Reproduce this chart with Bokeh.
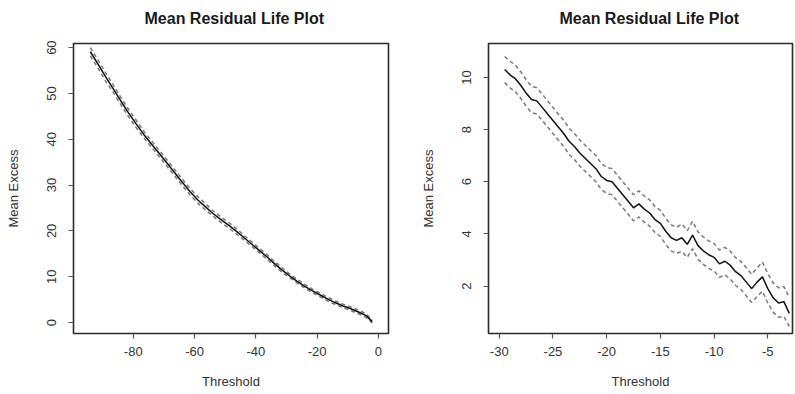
from bokeh.plotting import figure
from bokeh.layouts import row
from bokeh.models import Range1d, FixedTicker, Title
from bokeh.embed import file_html
from bokeh.resources import INLINE

TITLE = "Mean Residual Life Plot"
X_LABEL = "Threshold"
Y_LABEL = "Mean Excess"

# ---- left panel data ----
left_threshold = [-94, -91.5, -89, -86.5, -84, -81.5, -79, -76.5, -74, -71.5, -69, -66.5,
                  -64, -61.5, -59, -56.5, -54, -51.5, -49, -46.5, -44, -41.5, -39, -36.5,
                  -34, -31.5, -29, -26.5, -24, -21.5, -19, -16.5, -14, -11.5, -9, -6.5, -4, -2]
left_mean = [59.1, 56.4, 53.6, 51.0, 48.3, 45.7, 43.3, 41.0, 38.9, 36.9, 34.8, 32.7,
             30.6, 28.6, 26.8, 25.3, 23.8, 22.5, 21.3, 20.0, 18.6, 17.2, 15.8, 14.4,
             12.9, 11.5, 10.2, 9.0, 7.9, 6.9, 6.0, 5.1, 4.3, 3.6, 3.0, 2.3, 1.5, 0.2]
left_upper = [60.0, 57.3, 54.5, 51.8, 49.1, 46.5, 44.1, 41.7, 39.6, 37.6, 35.5, 33.4,
              31.3, 29.3, 27.5, 26.0, 24.4, 23.1, 21.9, 20.6, 19.1, 17.7, 16.3, 14.9,
              13.4, 12.0, 10.6, 9.4, 8.3, 7.3, 6.4, 5.5, 4.7, 4.0, 3.4, 2.7, 1.9, 0.5]
left_lower = [58.2, 55.5, 52.7, 50.2, 47.5, 44.9, 42.5, 40.3, 38.2, 36.2, 34.1, 32.0,
              29.9, 27.9, 26.1, 24.6, 23.2, 21.9, 20.7, 19.4, 18.1, 16.7, 15.3, 13.9,
              12.4, 11.0, 9.8, 8.6, 7.5, 6.5, 5.6, 4.7, 3.9, 3.2, 2.6, 1.9, 1.1, -0.1]
left_xticks = [-80, -60, -40, -20, 0]
left_yticks = [0, 10, 20, 30, 40, 50, 60]

# ---- right panel data ----
right_threshold = [-29.5, -29.0, -28.5, -28.0, -27.5, -27.0, -26.5, -26.0, -25.5, -25.0,
                   -24.5, -24.0, -23.5, -23.0, -22.5, -22.0, -21.5, -21.0, -20.5, -20.0,
                   -19.5, -19.0, -18.5, -18.0, -17.5, -17.0, -16.5, -16.0, -15.5, -15.0,
                   -14.5, -14.0, -13.5, -13.0, -12.5, -12.0, -11.5, -11.0, -10.5, -10.0,
                   -9.5, -9.0, -8.5, -8.0, -7.5, -7.0, -6.5, -6.0, -5.5, -5.0,
                   -4.5, -4.0, -3.5, -3.0]
right_mean = [10.30, 10.10, 9.95, 9.70, 9.40, 9.15, 9.10, 8.85, 8.60, 8.35,
              8.10, 7.85, 7.55, 7.35, 7.10, 6.90, 6.70, 6.50, 6.20, 6.05,
              6.00, 5.75, 5.50, 5.25, 5.00, 5.15, 4.95, 4.80, 4.55, 4.40,
              4.10, 3.85, 3.75, 3.85, 3.60, 3.95, 3.55, 3.35, 3.20, 3.10,
              2.85, 2.95, 2.80, 2.55, 2.40, 2.15, 1.90, 2.15, 2.35, 1.90,
              1.55, 1.35, 1.40, 0.95]
right_upper = [10.80, 10.62, 10.47, 10.22, 9.91, 9.66, 9.60, 9.36, 9.10, 8.85,
               8.60, 8.35, 8.05, 7.85, 7.60, 7.40, 7.20, 7.00, 6.70, 6.55,
               6.50, 6.25, 6.00, 5.75, 5.50, 5.65, 5.45, 5.30, 5.05, 4.90,
               4.60, 4.35, 4.25, 4.38, 4.12, 4.48, 4.08, 3.88, 3.73, 3.63,
               3.38, 3.48, 3.34, 3.09, 2.94, 2.70, 2.45, 2.70, 2.92, 2.47,
               2.12, 1.93, 1.98, 1.55]
right_lower = [9.80, 9.60, 9.45, 9.20, 8.90, 8.65, 8.60, 8.35, 8.10, 7.85,
               7.60, 7.35, 7.05, 6.85, 6.60, 6.40, 6.20, 6.00, 5.70, 5.55,
               5.50, 5.25, 5.00, 4.75, 4.50, 4.65, 4.45, 4.30, 4.05, 3.90,
               3.60, 3.35, 3.25, 3.33, 3.10, 3.43, 3.03, 2.83, 2.68, 2.58,
               2.33, 2.43, 2.27, 2.02, 1.87, 1.62, 1.37, 1.60, 1.80, 1.35,
               1.00, 0.80, 0.84, 0.45]
right_xticks = [-30, -25, -20, -15, -10, -5]
right_yticks = [2, 4, 6, 8, 10]

FONT = "Liberation Sans"


def make_panel(width, xr, yr, xticks, yticks, borders, spacer_size, title_offset,
               xs, mean, upper, lower):
    p = figure(width=width, height=394, output_backend="svg", toolbar_location=None,
               x_range=Range1d(*xr), y_range=Range1d(*yr),
               min_border_left=borders[0], min_border_right=borders[1],
               min_border_top=borders[2], min_border_bottom=borders[3])
    p.title.text = TITLE
    p.title.align = "left"
    p.title.text_font = FONT
    p.title.text_font_size = "16px"
    p.title.text_font_style = "bold"
    p.title.text_color = "#1a1a1a"
    p.title.offset = title_offset
    # empty spacer panel between the title and the frame
    p.add_layout(Title(text=" ", text_font_size=spacer_size, standoff=0), "above")
    p.grid.visible = False
    p.background_fill_color = "white"
    p.border_fill_color = "white"
    p.outline_line_color = "#2a2a2a"
    p.outline_line_width = 1.6
    p.outline_line_alpha = 1.0

    p.xaxis.ticker = FixedTicker(ticks=xticks)
    p.yaxis.ticker = FixedTicker(ticks=yticks)
    p.xaxis.major_label_overrides = {t: str(t) for t in xticks}
    p.yaxis.major_label_overrides = {t: str(t) for t in yticks}
    for ax in (p.xaxis[0], p.yaxis[0]):
        ax.axis_line_color = None
        ax.major_tick_line_color = "#555555"
        ax.major_tick_line_width = 1.2
        ax.major_tick_out = 5
        ax.major_tick_in = 0
        ax.minor_tick_line_color = None
        ax.major_label_text_font = FONT
        ax.major_label_text_font_size = "13px"
        ax.major_label_text_color = "#333333"
        ax.axis_label_text_font = FONT
        ax.axis_label_text_font_size = "13px"
        ax.axis_label_text_font_style = "normal"
        ax.axis_label_text_color = "#333333"
    p.xaxis.axis_label = X_LABEL
    p.yaxis.axis_label = Y_LABEL
    p.xaxis.major_label_standoff = 8
    p.xaxis.axis_label_standoff = 15
    p.yaxis.major_label_orientation = "vertical"
    p.yaxis.major_label_standoff = 12
    p.yaxis.axis_label_standoff = 24

    p.line(xs, upper, line_color="#7a7a7a", line_width=1.5, line_dash="4 3")
    p.line(xs, lower, line_color="#7a7a7a", line_width=1.5, line_dash="4 3")
    p.line(xs, mean, line_color="#111111", line_width=1.5)
    return p


left = make_panel(400, (-99.5, 3.3), (-2.4, 60.9), left_xticks, left_yticks,
                  (73, 12, 42, 61), "9px", 71,
                  left_threshold, left_mean, left_upper, left_lower)
right = make_panel(395, (-31.0, -2.7), (0.18, 11.3), right_xticks, right_yticks,
                   (88, 3, 43, 58), "9px", 71,
                   right_threshold, right_mean, right_upper, right_lower)

layout = row(left, right)
open("out.html", "w").write(file_html(layout, INLINE))
